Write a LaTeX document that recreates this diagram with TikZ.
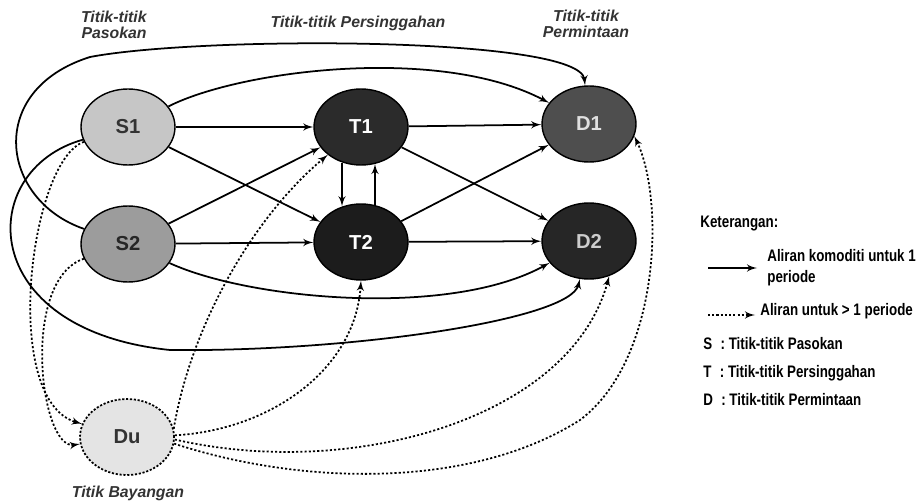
\documentclass[tikz,border=0pt]{standalone}
\usepackage{fontspec}
\setmainfont{Liberation Sans}
\newfontfamily\legendfont[FakeStretch=0.8]{Liberation Sans}
\usetikzlibrary{arrows,shapes.geometric,calc}
\definecolor{sone}{HTML}{C6C6C6}
\definecolor{stwo}{HTML}{9C9C9C}
\definecolor{tone}{HTML}{2B2B2B}
\definecolor{ttwo}{HTML}{1C1C1C}
\definecolor{done}{HTML}{4E4E4E}
\definecolor{dtwo}{HTML}{262626}
\definecolor{dumm}{HTML}{E4E4E4}
\tikzset{
    place/.style =  {ellipse,
                    draw=black,
                    line width=0.8pt,
                    minimum width=1.88cm,
                    minimum height=1.52cm,
                    inner sep=0pt,
                    font=\fontsize{11.5}{13}\selectfont\bfseries},
    supply/.style = {place,
                    fill=sone,
                    text=black!80},
    transit/.style ={place,
                    fill=tone,
                    text=white},
    demand/.style = {place,
                    fill=done,
                    text=black!12},
    dummy/.style =  {place,
                    fill=dumm,
                    text=black!80,
                    dash pattern=on 1.2pt off 1pt,
                    line width=1pt},
    title/.style =  {font=\fontsize{9}{9}\selectfont\bfseries\itshape,
                    text=black!80,
                    inner sep=0pt},
    legend/.style = {anchor=west,
                    align=left,
                    inner sep=0pt,
                    font=\legendfont\bfseries\fontsize{9.5}{12}\selectfont},
    flow/.style =   {->,
                    line width=1pt},
    later/.style =  {->,
                    line width=1pt,
                    dash pattern=on 1.2pt off 1.2pt},
    >=latex'}
\begin{document}
\begin{tikzpicture}[x=0.02cm,y=-0.02cm]
\useasboundingbox (0,0) rectangle (919,503);
% titles
\node[title,align=right,anchor=east] (tS) at (147,25)  {Titik-titik\\Pasokan};
\node[title]                         (tT) at (358,23)  {Titik-titik Persinggahan};
\node[title,align=center]            (tD) at (586,24)  {Titik-titik\\Permintaan};
% nodes
\node[supply]                (S1) at (128,127) {S1};
\node[supply,fill=stwo,text=black!85] (S2) at (128,244) {S2};
\node[transit]               (T1) at (361,127) {T1};
\node[transit,fill=ttwo]     (T2) at (361,242) {T2};
\node[demand]                (D1) at (589,124) {D1};
\node[demand,fill=dtwo,text=black!20] (D2) at (589,241) {D2};
\node[dummy]                 (Du) at (127,437) {Du};
\node[title] (tB) at (128,493) {Titik Bayangan};
% flows for one period
\path [flow]    (S1) edge (T1)
                (S1) edge (T2)
                (S2) edge (T1)
                (S2) edge (T2)
                (T1) edge (D1)
                (T1) edge (D2)
                (T2) edge (D1)
                (T2) edge (D2);
\draw[flow] ([xshift=-0.38cm,yshift=0.06cm]T1.south) -- ([xshift=-0.38cm,yshift=-0.06cm]T2.north);
\draw[flow] ([xshift=0.28cm,yshift=-0.034cm]T2.north) -- ([xshift=0.28cm,yshift=0.034cm]T1.south);
\draw[flow] (S1) .. controls (240,70) and (440,45) .. (D1);
\draw[flow] (S2) .. controls (0,200) and (-15,90) .. (90,57) .. controls (200,36) and (580,36) .. (D1);
\draw[flow] (S1) .. controls (-25,170) and (-25,330) .. (170,350) .. controls (350,352) and (570,320) .. (D2);
\draw[flow] (S2) .. controls (250,300) and (450,318) .. (D2);
% flows for more periods
\draw[later] (S1) .. controls (30,160) and (0,400) .. (Du);
\draw[later] (S2) .. controls (20,280) and (40,450) .. (Du);
\draw[later] (Du.10) .. controls (190,330) and (250,220) .. (T1);
\draw[later] (Du.2) .. controls (270,430) and (355,370) .. (T2.south);
\draw[later] (Du.-3) .. controls (350,480) and (570,420) .. (D2.-60);
\draw[later] (Du.-8) .. controls (300,485) and (470,490) .. (580,420) .. controls (660,360) and (665,200) .. (D1.-15);
% legend
\node[legend] (key) at (700,224) {Keterangan:};
\coordinate (k1s) at (708,268);
\coordinate (k1e) at (757,268);
\draw[flow] (k1s) -- (k1e);
\node[legend] (k1) at (767,268) {Aliran komoditi untuk 1\\periode};
\coordinate (k2s) at (708,315);
\coordinate (k2e) at (755,315);
\draw[later] (k2s) -- (k2e);
\node[legend] (k2) at (760,311) {Aliran untuk > 1 periode};
\node[legend] (kS) at (703,344) {S\enspace: Titik-titik Pasokan};
\node[legend] (kT) at (703,373) {T\enspace: Titik-titik Persinggahan};
\node[legend] (kD) at (703,400) {D\enspace: Titik-titik Permintaan};
\end{tikzpicture}
\end{document}
